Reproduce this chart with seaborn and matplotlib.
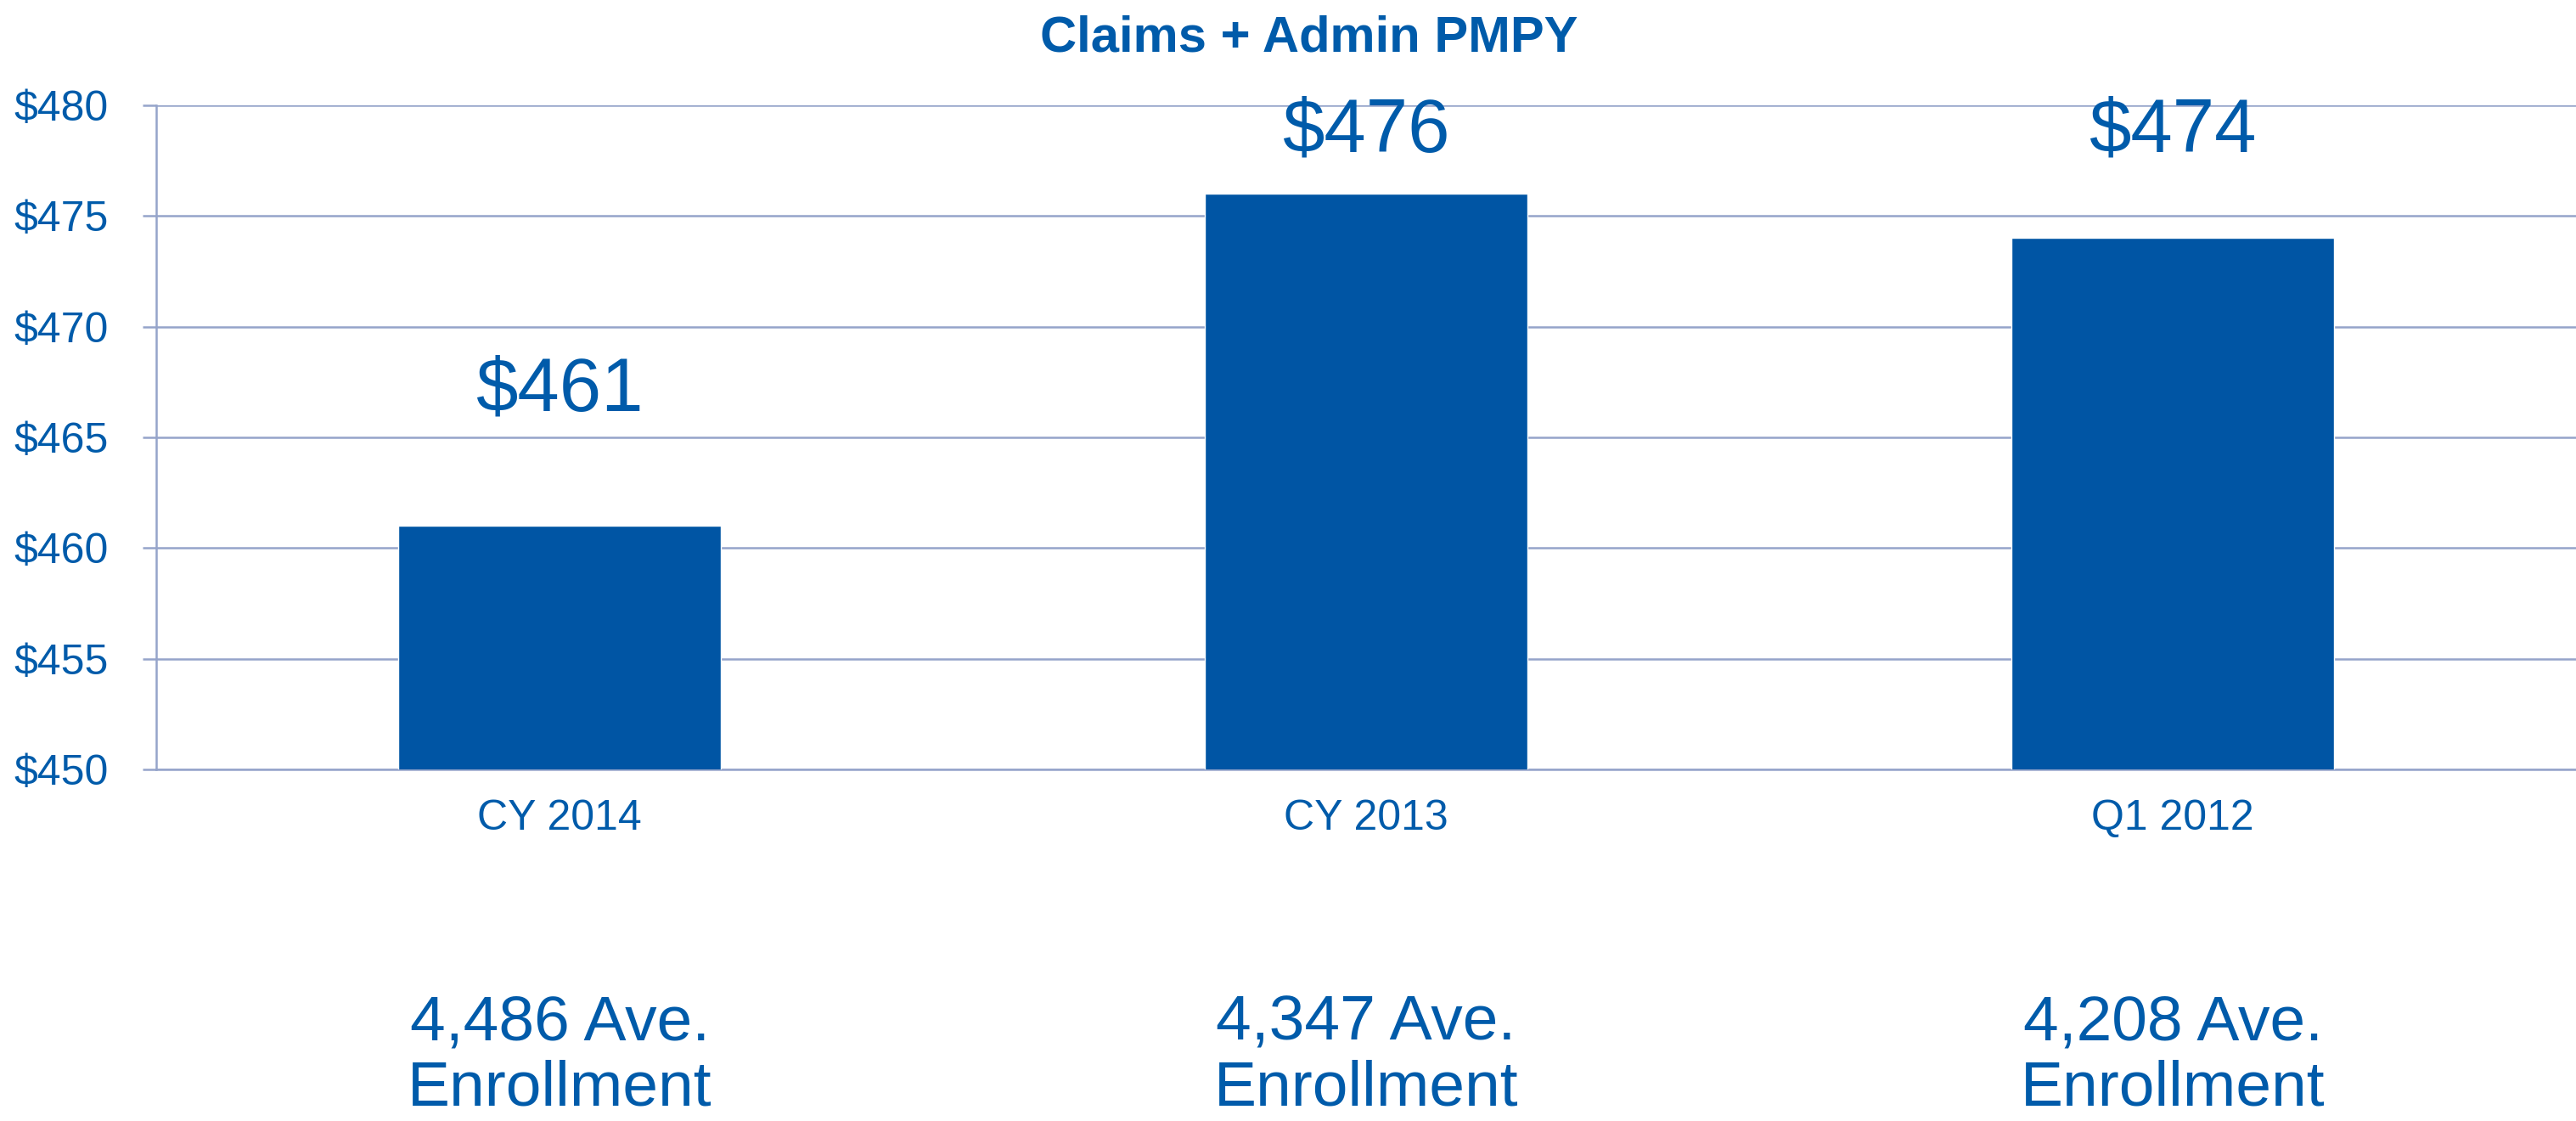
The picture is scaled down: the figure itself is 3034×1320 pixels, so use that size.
import matplotlib
matplotlib.use('Agg')
import matplotlib.pyplot as plt
import matplotlib.transforms as mtransforms
import seaborn as sns
import pandas as pd

categories = ['CY 2014', 'CY 2013', 'Q1 2012']
pmpy = [461, 476, 474]
enrollment = ['4,486', '4,347', '4,208']
yticks = [450, 455, 460, 465, 470, 475, 480]

bar_color = '#0055A4'
text_color = '#005BAA'
grid_color = '#95A4CA'

sns.set_style('white')
plt.rcParams['font.family'] = ['Liberation Sans', 'DejaVu Sans']

df = pd.DataFrame({'period': categories, 'value': pmpy})

fig = plt.figure(figsize=(30.34, 13.2), dpi=100)
ax = fig.add_axes([0.0607, 0.3136, 0.9393, 0.5924])

sns.barplot(data=df, x='period', y='value', color=bar_color, width=0.4,
            saturation=1, ax=ax, zorder=3)

ax.set_ylim(450, 480)
ax.set_xlim(-0.5, 2.486)
ax.set_yticks(yticks)
ax.set_yticklabels(['$%d' % v for v in yticks])
ax.set_xlabel('')
ax.set_ylabel('')

# gridlines + spines
ax.yaxis.grid(True, color=grid_color, linewidth=1.8, zorder=0)
ax.set_axisbelow(True)
sns.despine(ax=ax, top=True, right=True)
for s in ['left', 'bottom']:
    ax.spines[s].set_color(grid_color)
    ax.spines[s].set_linewidth(1.8)

ax.set_xticks([-0.5, 0.5, 1.5, 2.5], minor=True)
ax.tick_params(axis='x', which='minor', length=11.5, width=1.8, color=grid_color)
ax.tick_params(axis='x', which='major', length=0, pad=25,
               labelsize=36, labelcolor=text_color)
ax.tick_params(axis='y', length=11.5, width=1.8, color=grid_color, pad=29,
               labelsize=36, labelcolor=text_color, left=True)

# value labels above bars (kept inside the plot top)
for i, v in enumerate(pmpy):
    ax.text(i, min(v + 6.1, 478.8), '$%d' % v, ha='center', va='center',
            fontsize=64, color=text_color)

# enrollment notes below the axis
trans = mtransforms.blended_transform_factory(ax.transData, fig.transFigure)
for i, e in enumerate(enrollment):
    ax.text(i, 0.058, '%s Ave.\nEnrollment' % e, transform=trans,
            ha='center', va='center', fontsize=54, color=text_color,
            linespacing=1.15)

fig.text(0.508, 0.966, 'Claims + Admin PMPY', ha='center', va='center',
         fontsize=43, fontweight='bold', color=text_color)

fig.savefig('out.png', dpi=100)
